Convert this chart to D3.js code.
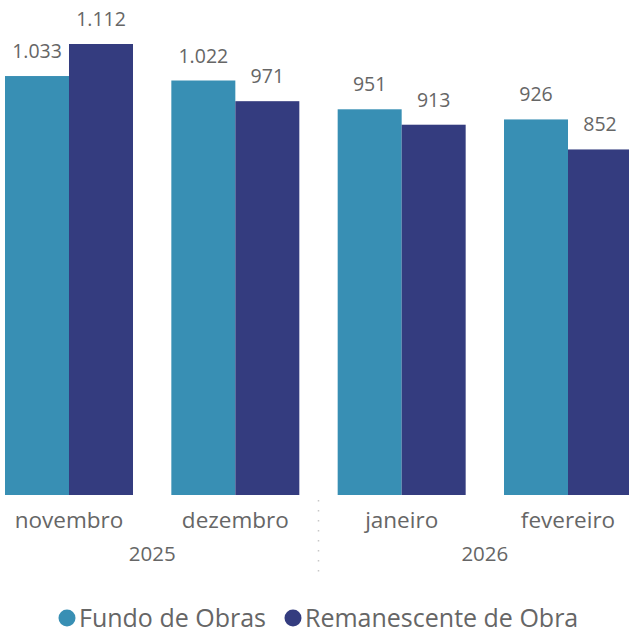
<!DOCTYPE html>
<html>
<head>
<meta charset="utf-8">
<script src="https://cdn.jsdelivr.net/npm/d3@7"></script>
<style>
  body { margin: 0; background: #fff; }
  text { font-family: "Open Sans", "Noto Sans", sans-serif; fill: #666; }
</style>
</head>
<body>
<div id="chart"></div>
<script>
// data
var months = ['novembro', 'dezembro', 'janeiro', 'fevereiro']
var years = ['2025', '2025', '2026', '2026']
var seriesNames = ['Fundo de Obras', 'Remanescente de Obra']
var fundo = [1033, 1022, 951, 926]
var remanescente = [1112, 971, 913, 852]
var colors = ['#388fb4', '#343c7f']

var width = 629
var height = 635
var baseY = 495

var svg = d3.select('#chart')
    .append('svg')
    .attr('width', width)
    .attr('height', height)

var rows = months.map((m, i) => ({ month: m, year: years[i], values: [fundo[i], remanescente[i]] }))

var x0 = d3.scaleBand().domain(months).range([5, 632]).paddingInner(0.2305).paddingOuter(0)
var x1 = d3.scaleBand().domain([0, 1]).range([0, x0.bandwidth()])
var y = d3.scaleLinear().domain([0, 1112]).range([baseY, 44])

var fmt = d3.formatLocale({ decimal: ',', thousands: '.', grouping: [3], currency: ['R$', ''] }).format(',')

var groups = svg.append('g')
    .selectAll('g')
    .data(rows)
    .enter().append('g')
    .attr('transform', d => `translate(${x0(d.month)},0)`)

groups.selectAll('rect')
    .data(d => d.values)
    .enter().append('rect')
    .attr('x', (d, i) => x1(i))
    .attr('y', d => y(d))
    .attr('width', x1.bandwidth())
    .attr('height', d => baseY - y(d))
    .attr('fill', (d, i) => colors[i])

groups.selectAll('text')
    .data(d => d.values)
    .enter().append('text')
    .attr('x', (d, i) => x1(i) + x1.bandwidth() / 2)
    .attr('y', d => y(d) - 18)
    .attr('text-anchor', 'middle')
    .attr('font-size', 19.5)
    .text(d => fmt(d))

// month axis
svg.append('g')
    .selectAll('text')
    .data(months)
    .enter().append('text')
    .attr('x', d => x0(d) + x0.bandwidth() / 2)
    .attr('y', 528)
    .attr('text-anchor', 'middle')
    .attr('font-size', 22.5)
    .text(d => d)

// year axis
var yearList = Array.from(new Set(years))
svg.append('g')
    .selectAll('text')
    .data(yearList)
    .enter().append('text')
    .attr('x', yr => {
        var ms = months.filter((m, i) => years[i] === yr)
        return (x0(ms[0]) + x0(ms[ms.length - 1]) + x0.bandwidth()) / 2
    })
    .attr('y', 561)
    .attr('text-anchor', 'middle')
    .attr('font-size', 20.5)
    .text(d => d)

// year separator
var sepX = (x0('dezembro') + x0.bandwidth() + x0('janeiro')) / 2
svg.append('line')
    .attr('x1', sepX).attr('x2', sepX)
    .attr('y1', 500).attr('y2', 576)
    .attr('stroke', '#c8c8c8')
    .attr('stroke-width', 1.5)
    .attr('stroke-dasharray', '1.5,8.5')

// legend
var legend = svg.append('g')
    .attr('transform', 'translate(0,618)')
var legX = [67, 293]
seriesNames.forEach((name, i) => {
    legend.append('circle')
        .attr('cx', legX[i])
        .attr('cy', 0)
        .attr('r', 8.5)
        .attr('fill', colors[i])
    legend.append('text')
        .attr('x', legX[i] + 12)
        .attr('y', 9)
        .attr('font-size', 25)
        .text(name)
})
</script>
</body>
</html>
